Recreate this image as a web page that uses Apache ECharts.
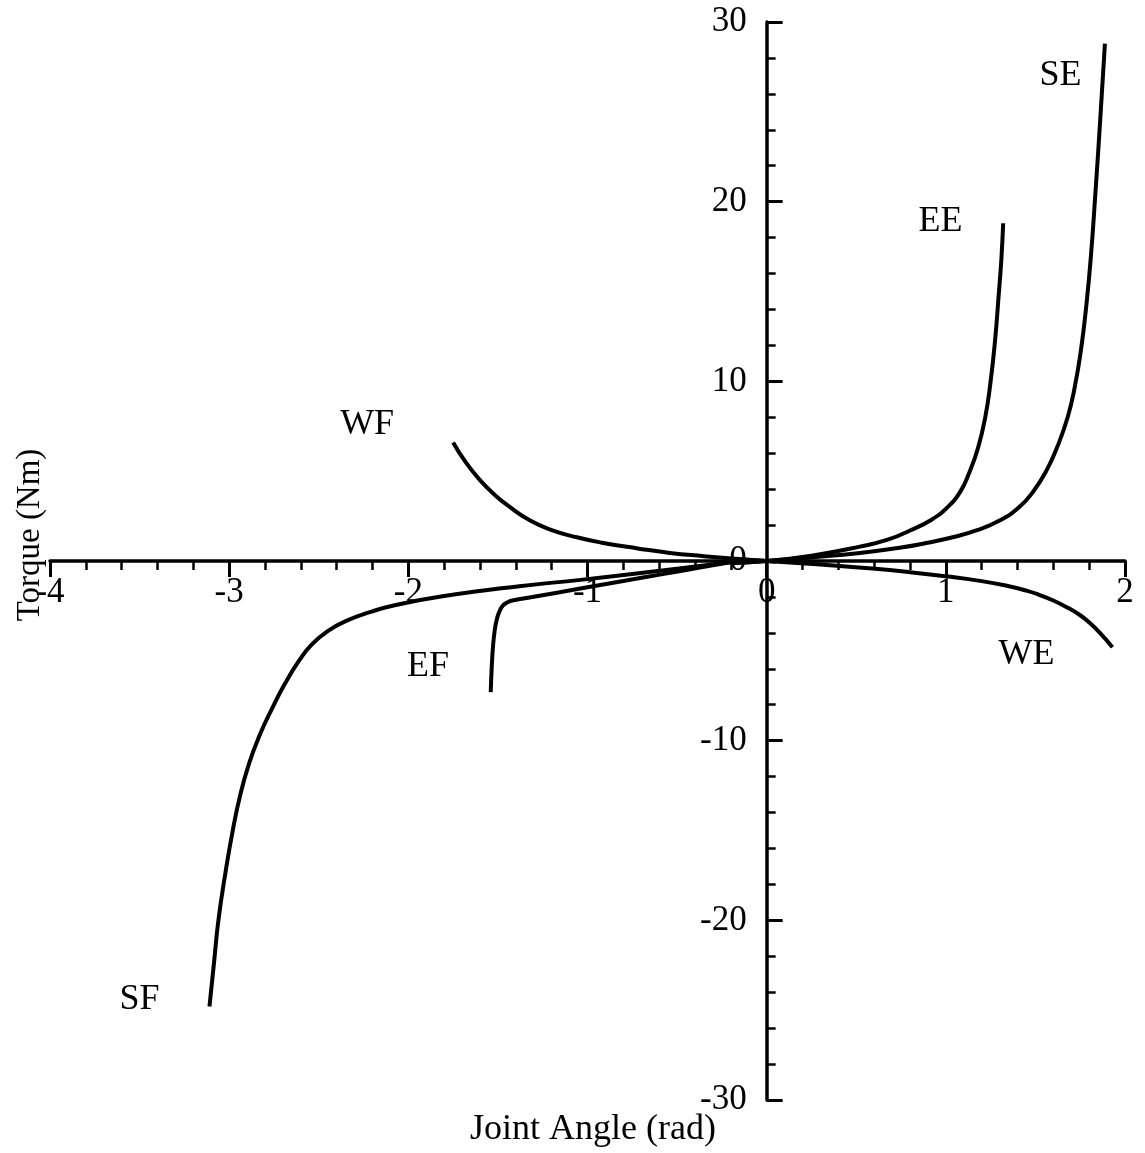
<!DOCTYPE html>
<html>
<head>
<meta charset="utf-8">
<script src="https://cdn.jsdelivr.net/npm/echarts@6/dist/echarts.min.js"></script>
<style>
  html, body { margin: 0; padding: 0; background: #fff; }
  #chart { width: 1145px; height: 1153px; }
</style>
</head>
<body>
<div id="chart"></div>
<script>
// joint angle (rad), torque (Nm)
const seData = [[-0.2, -0.12], [0, 0], [0.25, 0.2], [0.52, 0.45], [0.75, 0.75], [0.89, 1.0], [1.05, 1.35], [1.17, 1.7], [1.3, 2.25], [1.41, 3.0], [1.49, 3.9], [1.56, 5.0], [1.62, 6.3], [1.68, 8.0], [1.72, 9.7], [1.755, 11.8], [1.785, 14.3], [1.81, 17.0], [1.835, 20.5], [1.86, 24.3], [1.888, 28.8]]
const eeData = [[-0.2, -0.1], [0, 0], [0.25, 0.3], [0.52, 0.8], [0.68, 1.2], [0.8, 1.7], [0.92, 2.3], [1.01, 3.0], [1.08, 3.85], [1.13, 4.9], [1.18, 6.3], [1.22, 8.0], [1.25, 10.0], [1.275, 12.3], [1.295, 14.8], [1.31, 16.8], [1.32, 18.8]]
const weData = [[-0.2, 0.12], [0, 0], [0.3, -0.2], [0.59, -0.42], [0.8, -0.62], [1.0, -0.85], [1.2, -1.12], [1.34, -1.38], [1.45, -1.65], [1.52, -1.88], [1.6, -2.2], [1.68, -2.6], [1.75, -3.02], [1.8, -3.42], [1.86, -4.0], [1.93, -4.8]]
const wfData = [[-1.75, 6.6], [-1.68, 5.5], [-1.6, 4.5], [-1.52, 3.7], [-1.44, 3.05], [-1.32, 2.25], [-1.2, 1.72], [-1.06, 1.32], [-0.92, 1.02], [-0.72, 0.7], [-0.54, 0.45], [-0.35, 0.27], [-0.21, 0.15], [0, 0], [0.05, -0.04]]
const sfData = [[-3.11, -24.8], [-3.085, -22.4], [-3.06, -20.0], [-3.02, -17.3], [-2.98, -15.0], [-2.94, -13.1], [-2.89, -11.3], [-2.83, -9.7], [-2.76, -8.2], [-2.69, -6.85], [-2.61, -5.55], [-2.54, -4.65], [-2.45, -3.9], [-2.35, -3.35], [-2.2, -2.8], [-2.07, -2.45], [-1.8, -1.95], [-1.38, -1.4], [-1.04, -1.05], [-0.75, -0.72], [-0.49, -0.42], [-0.19, -0.05]]
const efData = [[-1.54, -7.3], [-1.535, -6.0], [-1.527, -4.7], [-1.517, -3.8], [-1.505, -3.2], [-1.49, -2.78], [-1.47, -2.46], [-1.44, -2.27], [-1.42, -2.2], [-1.3, -1.99], [-1.04, -1.535], [-0.8, -1.115], [-0.58, -0.73], [-0.38, -0.38], [-0.19, -0.05]]

const curveNames = ['SE', 'EE', 'WE', 'WF', 'SF', 'EF']
const curveData = [seData, eeData, weData, wfData, sfData, efData]
// where each curve's name is written
const labelPoints = [[1.64, 27.0], [0.97, 18.9], [1.45, -5.2], [-2.23, 7.6], [-3.5, -24.4], [-1.89, -5.9]]

const xTicks = { min: -4, max: 2, interval: 1 }
const yTicks = { min: -30, max: 30, interval: 10 }
const xTitle = 'Joint Angle (rad)'
const yTitle = 'Torque (Nm)'

const serif = 'Liberation Serif, Times New Roman, serif'

const gridBox = { left: 50, right: 20, top: 22, bottom: 53 }
const plotW = 1145 - gridBox.left - gridBox.right
const plotH = 1153 - gridBox.top - gridBox.bottom
// the axes cross at (0, 0): shift each axis in from the grid edge
const yAxisShift = plotW * (0 - xTicks.min) / (xTicks.max - xTicks.min)
const xAxisShift = plotH * (0 - yTicks.min) / (yTicks.max - yTicks.min)

const chart = echarts.init(document.getElementById('chart'))

const axisCommon = {
  type: 'value',
  axisLine: { onZero: false, lineStyle: { color: '#000', width: 3.5 } },
  axisTick: { show: true, length: 16, lineStyle: { color: '#000', width: 3 } },
  minorTick: { show: true, splitNumber: 5, length: 9, lineStyle: { color: '#000', width: 2.5 } },
  splitLine: { show: false },
  axisLabel: { color: '#000', fontFamily: serif, fontSize: 35 }
}

const lineSeries = curveNames.map((name, i) => ({
  name: name,
  type: 'line',
  data: curveData[i],
  showSymbol: false,
  smooth: 0.5,
  lineStyle: { color: '#000', width: 4 },
  z: 3
}))

const option = {
  animation: false,
  backgroundColor: '#fff',
  grid: Object.assign({ outerBoundsMode: 'none', containLabel: false }, gridBox),
  xAxis: Object.assign({}, axisCommon, {
    position: 'bottom',
    offset: -xAxisShift,
    min: xTicks.min,
    max: xTicks.max,
    interval: xTicks.interval,
    axisTick: Object.assign({}, axisCommon.axisTick, { inside: false }),
    axisLabel: Object.assign({}, axisCommon.axisLabel, { margin: 14, showMinLabel: true, showMaxLabel: true })
  }),
  yAxis: Object.assign({}, axisCommon, {
    position: 'left',
    offset: -yAxisShift,
    min: yTicks.min,
    max: yTicks.max,
    interval: yTicks.interval,
    axisTick: Object.assign({}, axisCommon.axisTick, { inside: true }),
    minorTick: Object.assign({}, axisCommon.minorTick, { inside: true }),
    axisLabel: Object.assign({}, axisCommon.axisLabel, { margin: 20, showMinLabel: true, showMaxLabel: true })
  }),
  series: lineSeries.concat([{
    type: 'scatter',
    symbolSize: 1,
    silent: true,
    itemStyle: { opacity: 0 },
    data: labelPoints.map((p, i) => ({ value: p, name: curveNames[i] })),
    label: {
      show: true,
      position: 'inside',
      formatter: '{b}',
      color: '#000',
      opacity: 1,
      fontFamily: serif,
      fontSize: 36
    },
    z: 4
  }]),
  graphic: [
    {
      type: 'text',
      x: 593,
      y: 1130,
      style: { text: xTitle, fill: '#000', font: '36px ' + serif, align: 'center', verticalAlign: 'middle' }
    },
    {
      type: 'text',
      x: 30,
      y: 535,
      rotation: Math.PI / 2,
      style: { text: yTitle, fill: '#000', font: '33px ' + serif, align: 'center', verticalAlign: 'middle' }
    }
  ]
}

chart.setOption(option)
</script>
</body>
</html>
